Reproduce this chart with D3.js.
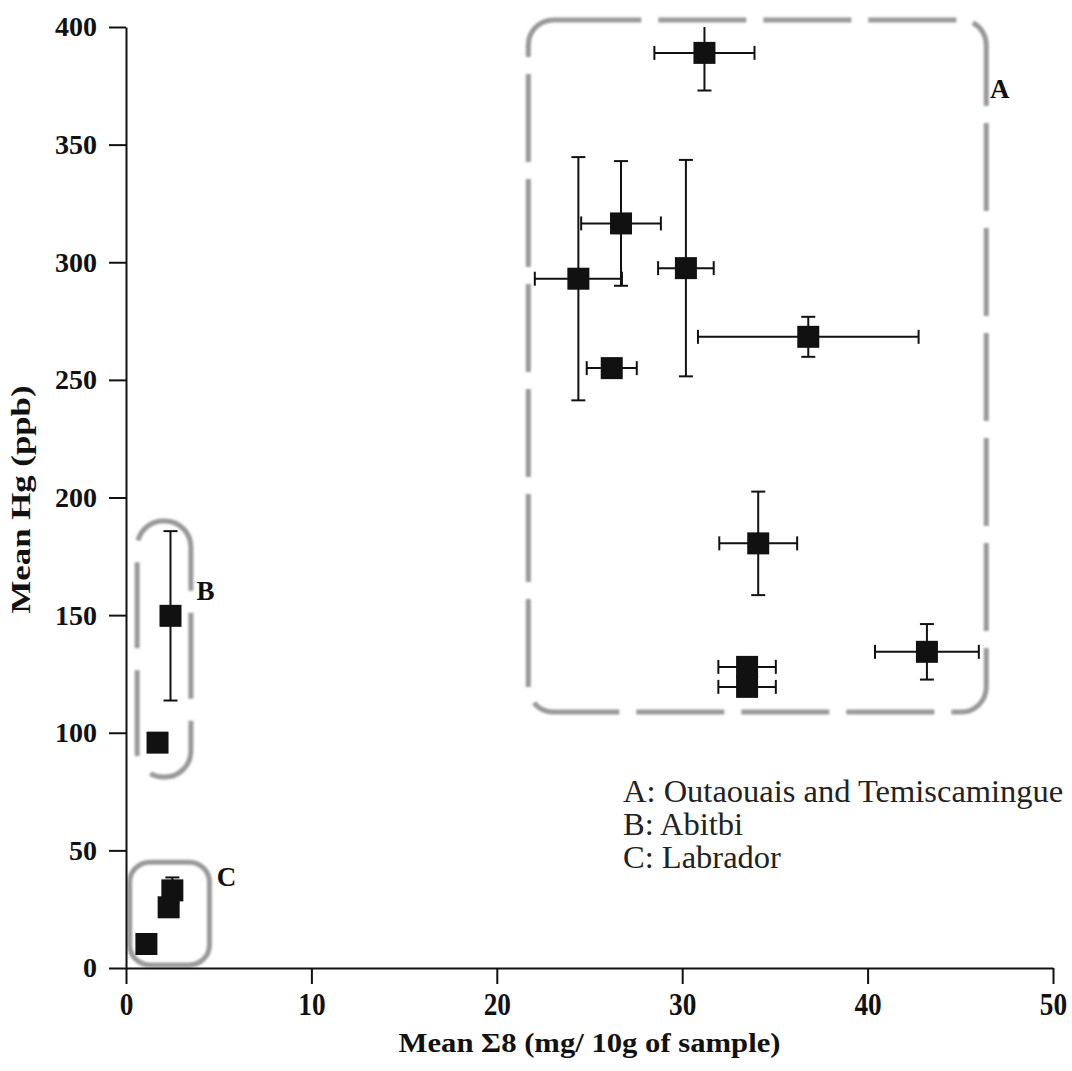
<!DOCTYPE html>
<html>
<head>
<meta charset="utf-8">
<script src="https://cdn.jsdelivr.net/npm/d3@7"></script>
<style>
  body { margin: 0; background: #fff; }
  .axis text { font-family: 'Liberation Serif', Times, serif; font-weight: bold; font-size: 28px; fill: #111; }
  .axis path, .axis line { stroke: #111; stroke-width: 2px; }
  .label { font-family: 'Liberation Serif', Times, serif; font-weight: bold; fill: #111; }
  .legend { font-family: 'Liberation Serif', Times, serif; font-size: 32.5px; fill: #222; }
</style>
</head>
<body>
<svg id="chart"></svg>
<script>
// mean sum8 (x), mean Hg (y) and their error bars
var region = ["A", "A", "A", "A", "A", "A", "A", "A", "A", "A", "B", "B", "C", "C", "C"];
var meanS8 = [31.2, 26.7, 24.4, 30.2, 36.8, 26.2, 34.1, 43.2, 33.5, 33.5, 2.4, 1.7, 2.5, 2.3, 1.1];
var meanHg = [389, 316.5, 293, 297.5, 268.3, 255, 180.5, 134.4, 128, 119.5, 149.7, 95.8, 33, 25.8, 10.2];
var errS8  = [2.7, 2.15, 2.35, 1.5, 5.95, 1.35, 2.1, 2.8, 1.55, 1.55, 0, 0, 0, 0, 0];
var errHg  = [16, 26.5, 51.7, 46, 8.5, 0, 22, 11.8, 0, 0, 36, 0, 5.5, 0, 0];

// grouping frames, in data units
var groups = ["A", "B", "C"];
var groupX0 = [21.7, 0.6, 0.2];
var groupX1 = [46.4, 3.5, 4.5];
var groupY0 = [108.8, 81.2, 1.3];
var groupY1 = [403, 190, 45];
var groupLabelX = [46.6, 3.8, 4.9];
var groupLabelY = [369.8, 156.4, 34.9];

var legendLines = ["A: Outaouais and Temiscamingue", "B: Abitbi", "C: Labrador"];

var xTicks = [0, 10, 20, 30, 40, 50];
var yTicks = [0, 50, 100, 150, 200, 250, 300, 350, 400];

var W = 1072, H = 1071;
var margin = {top: 27, right: 19, bottom: 103, left: 126},
    width = W - margin.left - margin.right,
    height = H - margin.top - margin.bottom;

var x = d3.scaleLinear().domain([0, 50]).range([0, width]);
var y = d3.scaleLinear().domain([0, 400]).range([height, 0]);

var svg = d3.select("#chart")
    .attr("width", W)
    .attr("height", H)
  .append("g")
    .attr("transform", "translate(" + margin.left + "," + margin.top + ")");

var defs = d3.select("#chart").append("defs");
defs.append("filter").attr("id", "soft")
  .append("feGaussianBlur").attr("stdDeviation", 0.9);

// group frames
var frameR = [25, 26, 20];
var frameDash = ["88 17", "86 22", null];
groups.forEach(function(g, i) {
  svg.append("rect")
      .attr("x", x(groupX0[i]))
      .attr("y", y(groupY1[i]))
      .attr("width", x(groupX1[i]) - x(groupX0[i]))
      .attr("height", y(groupY0[i]) - y(groupY1[i]))
      .attr("rx", frameR[i])
      .style("fill", "none")
      .style("stroke", "#999")
      .style("stroke-width", 5)
      .style("stroke-dasharray", frameDash[i])
      .style("filter", "url(#soft)");

  svg.append("text")
      .attr("class", "label")
      .attr("x", x(groupLabelX[i]))
      .attr("y", y(groupLabelY[i]))
      .style("font-size", "27px")
      .text(g);
});

// axes
svg.append("g")
    .attr("class", "axis")
    .attr("transform", "translate(0," + height + ")")
    .call(d3.axisBottom(x).tickValues(xTicks).tickSize(16).tickSizeOuter(0).tickPadding(9))
  .selectAll("text")
    .style("font-size", "31px")
    .attr("transform", "scale(0.88,1)");

svg.append("g")
    .attr("class", "axis")
    .call(d3.axisLeft(y).tickValues(yTicks).tickSize(17).tickSizeOuter(0).tickPadding(12));

svg.append("text")
    .attr("class", "label")
    .attr("x", width / 2)
    .attr("y", height + 84)
    .attr("text-anchor", "middle")
    .style("font-size", "27px")
    .attr("textLength", 382)
    .attr("lengthAdjust", "spacingAndGlyphs")
    .text("Mean \u03A38 (mg/ 10g of sample)");

svg.append("text")
    .attr("class", "label")
    .attr("transform", "translate(" + (-96) + "," + (y(200) + 2) + ") rotate(-90)")
    .attr("text-anchor", "middle")
    .style("font-size", "27px")
    .attr("textLength", 228)
    .attr("lengthAdjust", "spacingAndGlyphs")
    .text("Mean Hg (ppb)");

// error bars, clipped to the plot top
var yMax = y.domain()[1];
var cap = 7;
var bars = svg.append("g").style("stroke", "#111").style("stroke-width", 2);
meanS8.forEach(function(d, i) {
  var cx = x(d), cy = y(meanHg[i]);
  if (errS8[i] > 0) {
    var xl = x(d - errS8[i]), xr = x(d + errS8[i]);
    bars.append("line").attr("x1", xl).attr("x2", xr).attr("y1", cy).attr("y2", cy);
    bars.append("line").attr("x1", xl).attr("x2", xl).attr("y1", cy - cap).attr("y2", cy + cap);
    bars.append("line").attr("x1", xr).attr("x2", xr).attr("y1", cy - cap).attr("y2", cy + cap);
  }
  if (errHg[i] > 0) {
    var hi = meanHg[i] + errHg[i], lo = meanHg[i] - errHg[i];
    var yt = y(Math.min(hi, yMax)), yb = y(lo);
    bars.append("line").attr("x1", cx).attr("x2", cx).attr("y1", yt).attr("y2", yb);
    bars.append("line").attr("x1", cx - cap).attr("x2", cx + cap).attr("y1", yb).attr("y2", yb);
    if (hi <= yMax)
      bars.append("line").attr("x1", cx - cap).attr("x2", cx + cap).attr("y1", yt).attr("y2", yt);
  }
});

// points
var s = 22;
svg.append("g").selectAll(".dot")
    .data(meanS8)
  .enter().append("rect")
    .attr("class", "dot")
    .attr("x", function(d) { return x(d) - s / 2; })
    .attr("y", function(d, i) { return y(meanHg[i]) - s / 2; })
    .attr("width", s)
    .attr("height", s)
    .style("fill", "#111");

// legend
svg.append("g").selectAll(".legend")
    .data(legendLines)
  .enter().append("text")
    .attr("class", "legend")
    .attr("x", 623 - margin.left)
    .attr("y", function(d, i) { return 775 + i * 33; })
    .text(function(d) { return d; });
</script>
</body>
</html>
